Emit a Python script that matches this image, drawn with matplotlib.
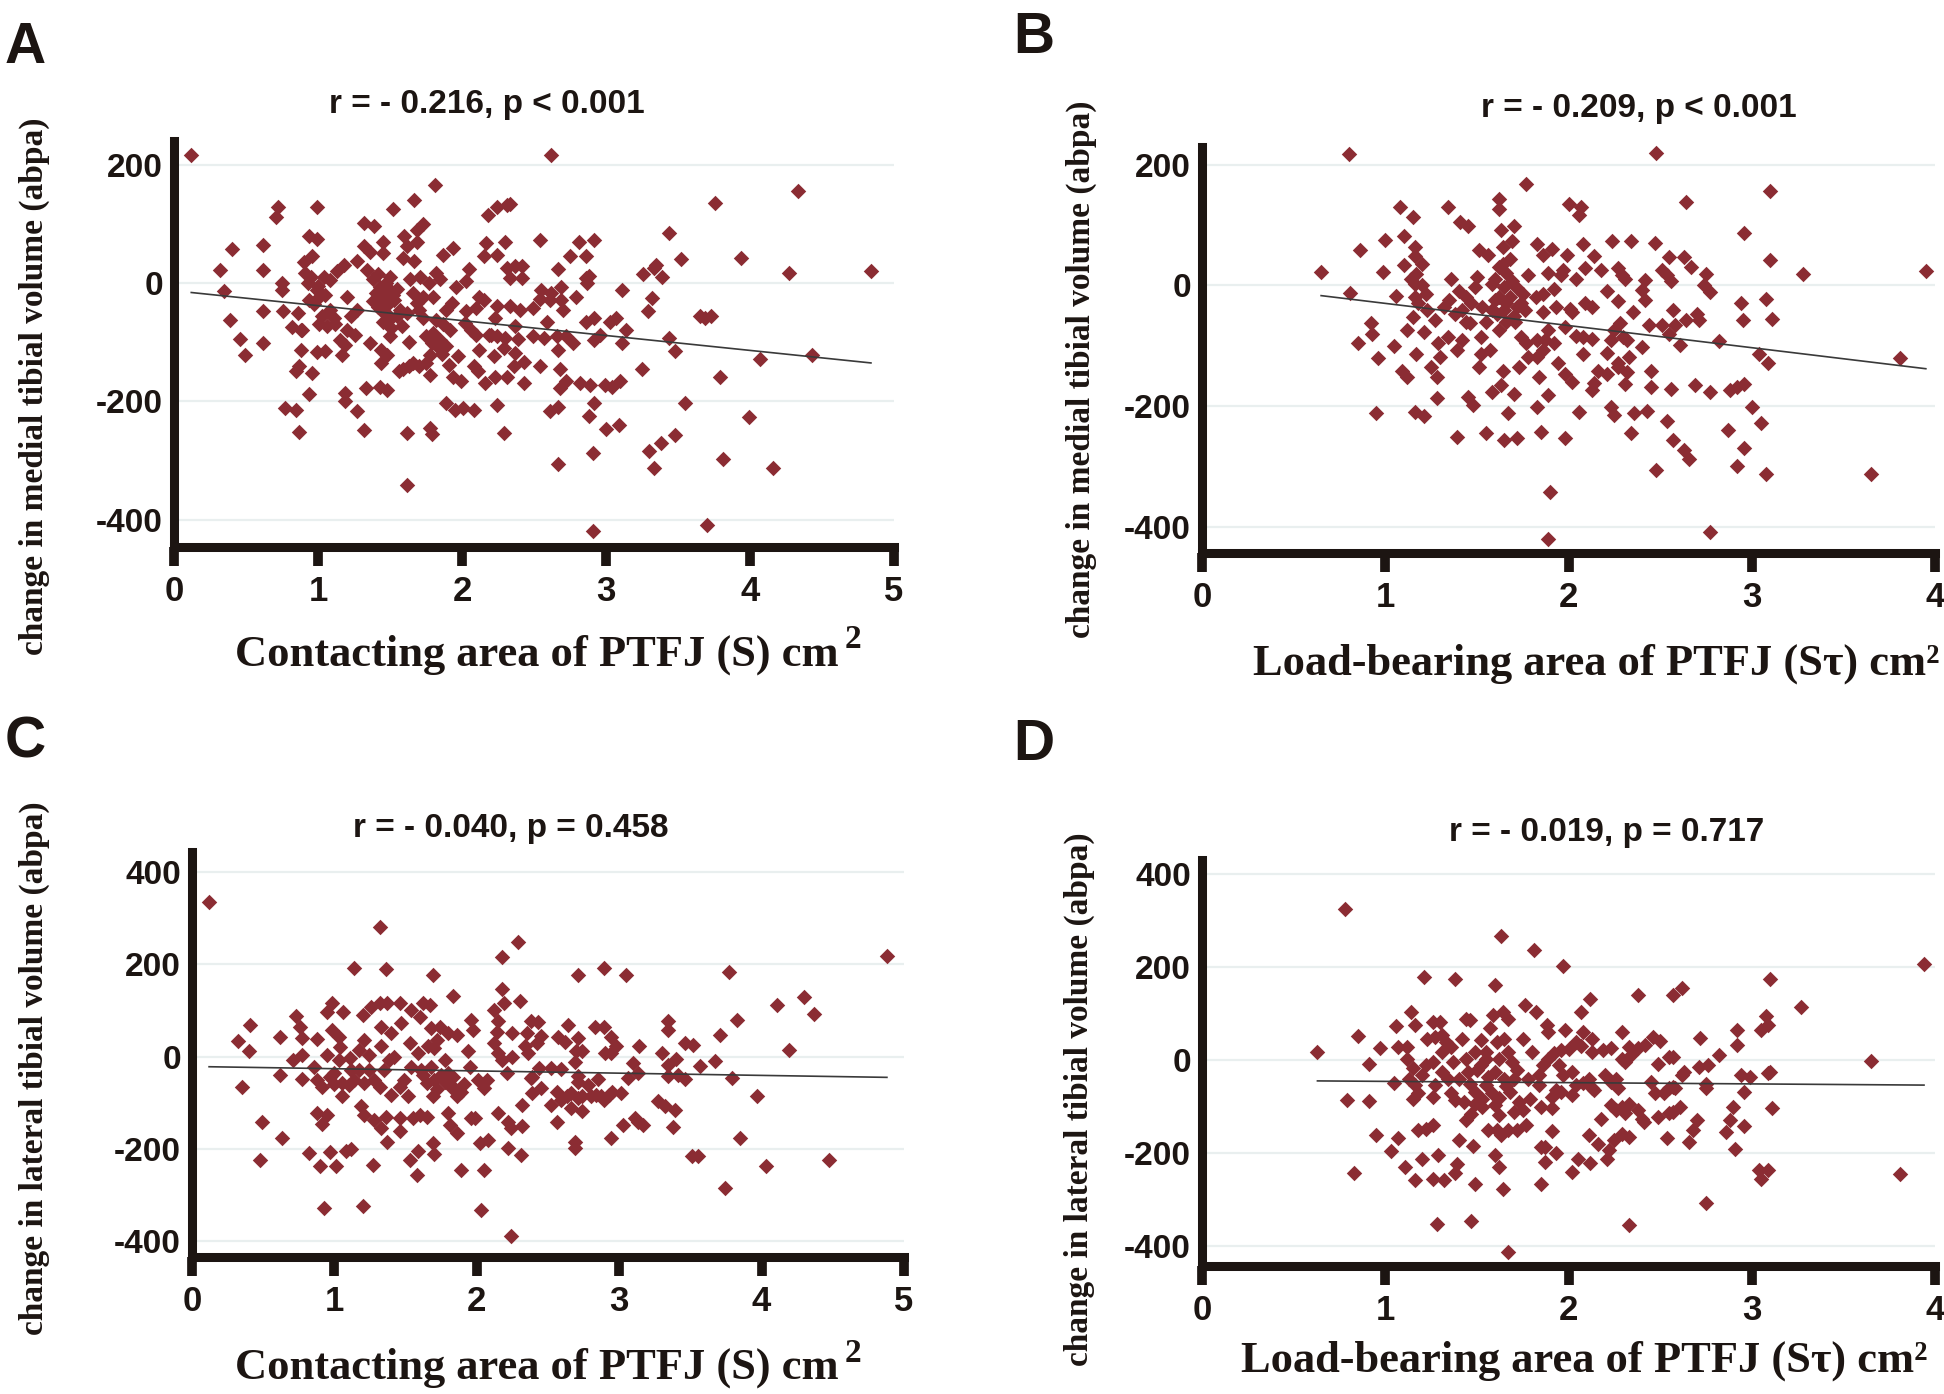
import matplotlib
matplotlib.use('Agg')
import matplotlib.pyplot as plt

# ---- data ----
# panel A: contacting area (S) vs medial tibial volume change
a_x = [0.12, 0.32, 0.35, 0.40, 0.39, 0.46, 0.49, 0.62, 0.62, 0.62,
       0.62, 0.72, 0.71, 0.75, 0.75, 0.76, 0.77, 0.85, 0.87, 0.82,
       0.86, 0.88, 0.89, 0.88, 0.87, 0.85, 0.94, 0.96, 0.99, 0.94,
       0.99, 0.96, 0.90, 0.91, 0.93, 0.99, 1.01, 1.04, 0.94, 0.99,
       1.05, 1.01, 1.06, 1.11, 1.13, 1.18, 1.20, 1.20, 1.15, 1.19,
       1.17, 1.19, 1.19, 1.27, 1.32, 1.26, 1.23, 1.27, 1.27, 1.32,
       1.39, 1.32, 1.36, 1.34, 1.38, 1.40, 1.43, 1.45, 1.41, 1.44,
       1.45, 1.45, 1.52, 1.36, 1.44, 1.48, 1.44, 1.50, 1.51, 1.55,
       1.57, 1.50, 1.50, 1.53, 1.48, 1.43, 1.48, 1.33, 1.56, 1.59,
       1.63, 1.66, 1.70, 1.63, 1.58, 1.62, 1.60, 1.62, 1.67, 1.69,
       1.73, 1.69, 1.59, 1.67, 1.64, 1.71, 1.66, 1.73, 1.69, 1.70,
       1.73, 1.77, 1.80, 1.82, 1.85, 1.81, 1.87, 1.94, 1.96, 1.93,
       1.89, 1.87, 1.82, 1.75, 1.79, 1.85, 1.89, 1.92, 1.78, 1.75,
       1.78, 1.91, 1.97, 1.94, 1.99, 1.89, 1.95, 2.01, 2.08, 1.78,
       1.79, 1.62, 1.62, 2.03, 2.02, 2.05, 2.03, 2.06, 2.08, 2.11,
       2.10, 2.15, 2.16, 2.22, 2.24, 2.29, 2.18, 2.24, 2.31, 2.15,
       2.17, 2.24, 2.30, 2.31, 2.24, 2.23, 2.20, 2.24, 2.30, 2.29,
       2.23, 2.31, 2.19, 2.10, 2.12, 2.12, 1.38, 1.42, 1.47, 1.52,
       1.47, 1.42, 1.55, 1.50, 1.45, 0.95, 1.00, 1.05, 0.97, 1.08,
       1.08, 1.12, 1.03, 1.80, 1.84, 1.86, 2.62, 2.33, 2.54, 2.81,
       2.92, 2.75, 2.86, 2.67, 2.42, 2.37, 2.42, 2.33, 2.55, 2.62,
       2.69, 2.69, 2.61, 2.54, 2.70, 2.79, 2.86, 2.87, 2.88, 2.49,
       2.40, 2.33, 2.59, 2.86, 2.92, 3.03, 3.07, 3.11, 3.14, 3.11,
       2.96, 2.92, 2.77, 2.72, 2.66, 2.57, 2.49, 2.39, 2.37, 2.37,
       2.36, 2.43, 2.43, 2.54, 2.67, 2.68, 2.72, 2.68, 2.82, 2.89,
       2.99, 3.04, 3.10, 3.25, 3.26, 3.33, 3.35, 3.39, 3.32, 3.29,
       3.44, 3.52, 3.65, 3.69, 3.73, 3.44, 3.48, 3.76, 3.94, 4.27,
       4.33, 4.84, 3.79, 4.07, 4.43, 3.55, 3.99, 2.61, 2.67, 2.88,
       2.92, 3.00, 3.09, 2.67, 2.91, 3.30, 3.38, 3.33, 3.48, 3.81,
       4.16, 2.91, 3.70]
a_y = [216, 22, -13, 58, -63, -95, -122, 64, 22, -48,
       -101, 128, 111, 0, -11, -48, -211, -214, -251, -74,
       -50, -79, -79, -113, -141, -149, -187, -152, 128, 80,
       74, 46, 35, 17, 0, -11, -23, 11, -28, -117,
       -115, -70, -73, -59, 21, 31, -23, -79, -96, -104,
       -121, -186, -200, -217, -249, -88, -56, -45, 37, 101,
       97, 62, 53, 22, 6, -17, -6, -23, -34, -45,
       51, 70, 125, -101, -113, -121, -135, -90, -76, -56,
       -45, 11, -11, -28, -37, -176, -181, -178, -148, -146,
       -140, -135, -140, -99, -73, -51, 79, 62, 141, 90,
       100, 70, 42, 37, 6, 11, -17, -23, -34, -45,
       -59, 0, -23, 17, 6, 166, 48, 59, -6, -34,
       -45, -70, -62, -90, -101, -96, -107, -79, -121, -135,
       -155, -138, -124, -158, -166, -203, -214, -211, -215, -245,
       -255, -253, -342, -48, -68, 24, 3, -79, -141, -149,
       -42, -28, -169, -124, -206, -253, 115, 128, 132, 45,
       68, 47, 70, 25, -39, -59, -87, -90, -93, -110,
       -158, -158, -87, -87, -113, -23, -30, -40, -50, -20,
       0, 15, -10, -60, -65, 10, -5, -20, -35, 5,
       -45, -70, -55, -85, -110, -120, 216, 134, 72, 70,
       72, 46, 46, 24, 28, 28, 8, 8, -11, -16,
       -7, -29, -29, -27, -45, -24, 8, 0, 12, -42,
       -45, -39, -65, -65, -59, -65, -59, -11, -79, -101,
       -87, -96, -101, -90, -89, -93, -90, -95, -73, -118,
       -141, -133, -169, -141, -113, -146, -166, -177, -169, -173,
       -172, -176, -166, -146, 16, 25, 31, 11, -26, -48,
       84, 41, -56, -59, -56, -93, -115, 136, 43, 17,
       156, 21, -159, -128, -121, -203, -227, -217, -209, -224,
       -203, -246, -240, -305, -288, -283, -270, -312, -256, -297,
       -312, -419, -409]
fit_a_x = [0.12, 4.84]
fit_a_y = [-16, -135]

# panel B: load-bearing area (S tau) vs medial tibial volume change
b_x = [0.65, 0.80, 0.81, 0.86, 0.92, 0.93, 0.85, 0.95, 0.96, 0.99,
       1.00, 1.05, 1.06, 1.08, 1.10, 1.10, 1.09, 1.12, 1.15, 1.16,
       1.16, 1.16, 1.21, 1.17, 1.12, 1.15, 1.16, 1.16, 1.17, 1.20,
       1.22, 1.23, 1.21, 1.25, 1.28, 1.28, 1.34, 1.27, 1.29, 1.30,
       1.34, 1.32, 1.35, 1.36, 1.38, 1.39, 1.41, 1.45, 1.42, 1.39,
       1.44, 1.46, 1.45, 1.48, 1.50, 1.49, 1.51, 1.53, 1.52, 1.52,
       1.51, 1.55, 1.56, 1.57, 1.58, 1.60, 1.61, 1.62, 1.62, 1.63,
       1.64, 1.64, 1.65, 1.65, 1.62, 1.64, 1.63, 1.58, 1.65, 1.67,
       1.70, 1.70, 1.69, 1.68, 1.69, 1.72, 1.71, 1.74, 1.73, 1.72,
       1.76, 1.75, 1.77, 1.78, 1.82, 1.83, 1.83, 1.85, 1.83, 1.83,
       1.84, 1.77, 1.78, 1.62, 1.66, 1.70, 1.68, 1.72, 1.58, 1.55,
       1.66, 1.74, 1.60, 1.62, 1.66, 1.42, 1.47, 1.44, 1.40, 1.18,
       1.20, 1.14, 2.48, 2.64, 2.00, 2.07, 2.06, 3.10, 2.96, 3.10,
       3.28, 3.95, 1.91, 1.86, 1.99, 2.08, 2.24, 2.34, 2.47, 2.14,
       1.97, 1.96, 1.89, 2.04, 2.09, 2.18, 2.27, 2.31, 2.29, 2.42,
       2.40, 2.42, 2.21, 2.27, 2.13, 2.09, 2.01, 2.02, 1.93, 1.86,
       1.92, 1.86, 2.51, 2.54, 2.56, 2.55, 2.63, 2.67, 2.75, 2.74,
       2.77, 2.35, 2.28, 2.25, 2.44, 2.51, 2.55, 2.58, 2.57, 2.64,
       2.71, 2.70, 2.61, 2.40, 2.32, 2.30, 2.23, 2.13, 2.08, 2.04,
       1.98, 1.89, 1.87, 1.92, 1.86, 1.94, 1.98, 2.02, 2.08, 2.16,
       2.14, 2.13, 2.21, 2.21, 2.27, 2.32, 2.33, 2.31, 2.27, 2.45,
       2.45, 2.56, 2.69, 2.77, 2.88, 2.92, 2.96, 2.82, 2.94, 2.95,
       3.08, 3.11, 3.04, 3.09, 3.81, 1.89, 1.98, 2.06, 2.23, 2.25,
       2.36, 2.43, 2.34, 2.54, 2.57, 2.63, 2.66, 2.48, 2.87, 2.96,
       2.92, 3.00, 3.05, 3.08, 3.65, 1.90, 1.89, 2.77]
b_y = [22, 218, -12, 59, -63, -81, -96, -211, -121, 22,
       75, -101, -18, 129, 81, 33, -141, -152, 113, 64,
       48, -210, -217, -114, -74, -52, -19, 3, 19, 36,
       -14, -41, -77, -135, -152, -187, 129, -58, -96, -118,
       -85, -36, -25, 11, -47, -251, 105, 98, -91, -107,
       -19, -63, -185, -198, 14, -3, 58, -36, -85, -113,
       -135, -245, 50, -107, 3, -25, -47, 143, 127, 91,
       63, 36, -3, -41, -74, -141, -165, -176, -256, -212,
       -179, 99, 74, 44, 8, -36, -61, -85, -135, -253,
       -41, -14, 168, 17, -19, 69, -201, -242, -91, -118,
       -152, -96, -118, -20, -30, -50, -20, -5, -40, -60,
       -60, -30, 10, 30, 20, -40, -30, -60, -10, -30,
       0, 10, 219, 138, 135, 129, 116, 156, 87, 42,
       18, 23, 61, 50, 50, 68, 73, 73, 70, 48,
       25, 17, 20, 11, 28, 25, 28, 11, 17, 9,
       -7, -24, -9, -26, -36, -29, -39, -44, -36, -44,
       -6, -14, 25, 17, 8, 47, 47, 30, 18, 0,
       -11, -44, -63, -74, -66, -66, -80, -66, -41, -57,
       -58, -47, -99, -102, -91, -85, -91, -88, -85, -84,
       -69, -74, -91, -96, -107, -129, -146, -160, -113, -141,
       -161, -174, -146, -112, -129, -143, -118, -163, -135, -141,
       -168, -171, -165, -176, -174, -168, -163, -92, -29, -58,
       -23, -55, -114, -128, -120, -182, -253, -209, -202, -215,
       -211, -208, -245, -224, -256, -273, -288, -305, -240, -270,
       -299, -202, -227, -312, -312, -342, -420, -409]
fit_b_x = [0.65, 3.95]
fit_b_y = [-17, -138]

# panel C: contacting area (S) vs lateral tibial volume change
c_x = [0.12, 0.32, 0.41, 0.40, 0.35, 0.49, 0.48, 0.62, 0.62, 0.63,
       0.71, 0.73, 0.76, 0.77, 0.77, 0.77, 0.82, 0.88, 0.88, 0.91,
       0.90, 0.93, 0.86, 0.88, 0.91, 0.95, 0.97, 1.01, 0.98, 0.95,
       1.06, 0.98, 1.03, 0.95, 1.03, 1.00, 1.05, 1.11, 1.12, 1.17,
       1.21, 1.20, 1.26, 1.32, 1.37, 1.33, 1.33, 1.38, 1.40, 1.46,
       1.54, 1.62, 1.67, 1.60, 1.47, 1.53, 1.59, 1.66, 1.68, 1.74,
       1.80, 1.86, 1.72, 1.70, 1.78, 1.80, 1.82, 1.86, 1.89, 1.68,
       1.70, 1.65, 1.61, 1.54, 1.49, 1.46, 1.42, 1.35, 1.32, 1.28,
       1.24, 1.17, 1.24, 1.21, 1.14, 1.10, 1.05, 1.19, 1.21, 1.28,
       1.33, 1.37, 1.27, 1.12, 1.08, 1.14, 1.36, 1.32, 1.69, 1.83,
       1.96, 1.97, 1.94, 1.95, 2.01, 2.07, 2.05, 1.96, 1.99, 2.02,
       2.08, 2.05, 1.89, 2.03, 2.24, 2.18, 2.29, 2.18, 2.19, 2.12,
       2.15, 2.14, 2.12, 2.15, 2.18, 2.21, 2.25, 2.25, 2.15, 2.22,
       2.24, 2.22, 1.80, 1.81, 1.86, 1.69, 1.70, 1.59, 1.58, 1.53,
       1.65, 1.60, 1.55, 1.46, 1.46, 1.36, 1.20, 1.69, 1.52, 1.40,
       2.71, 2.89, 3.05, 2.30, 2.38, 2.43, 2.64, 2.57, 2.62, 2.71,
       2.70, 2.74, 2.69, 2.34, 2.36, 2.42, 2.45, 2.35, 2.44, 2.52,
       2.59, 2.39, 2.71, 2.71, 2.78, 2.85, 2.83, 2.89, 2.94, 2.98,
       2.90, 2.94, 3.10, 3.14, 3.13, 3.06, 2.87, 2.89, 2.93, 2.95,
       3.01, 2.66, 2.71, 2.74, 2.80, 2.84, 2.63, 2.59, 2.66, 2.74,
       2.56, 2.52, 2.56, 2.45, 2.39, 2.38, 2.32, 2.32, 2.31, 2.69,
       2.69, 2.94, 3.03, 3.11, 3.13, 3.17, 3.30, 3.34, 3.34, 3.34,
       3.40, 3.34, 3.41, 3.46, 3.46, 3.52, 3.57, 3.67, 3.71, 3.27,
       3.32, 3.39, 3.38, 3.51, 3.55, 3.74, 3.77, 3.83, 3.79, 3.97,
       3.85, 4.03, 4.11, 4.19, 4.30, 4.37, 4.47, 4.88, 1.75, 1.78,
       1.83, 1.85, 1.00, 0.97, 1.04, 1.62, 1.72, 1.91]
c_y = [335, 34, 68, 11, -65, -141, -223, 43, -40, -177,
       -7, 88, 65, 40, 4, -49, -209, 37, -123, -146,
       -236, -328, -22, -50, -65, -126, -207, -238, 117, 97,
       96, 58, 43, 4, -7, -36, -58, -4, -29, 14,
       36, 90, 108, 115, 117, 65, 22, -7, 50, 115,
       101, 115, 112, 86, 72, 29, 7, 22, 61, 65,
       50, 47, 36, 18, -7, -36, -65, -86, -76, -22,
       -50, -58, -29, -22, -50, -65, 0, -29, -65, -50,
       -29, -29, 4, -58, -50, -61, -86, -108, -126, -137,
       -155, -184, -234, -200, -205, 191, 190, 280, 177, 132,
       79, 58, 11, -22, -50, -50, -68, -133, -133, -187,
       -180, -245, -245, -332, -389, 216, 249, 146, 115, 101,
       76, 54, 29, 7, -7, -36, 50, 0, -123, -141,
       -155, -198, -123, -148, -166, -187, -212, -205, -256, -223,
       -130, -126, -133, -133, -162, -130, -324, -86, -86, -83,
       176, 191, 176, 121, 76, 74, 68, 43, 32, 41,
       11, 11, -11, 22, 7, 29, 44, 50, -25, -25,
       -27, -45, -43, -54, -61, -49, 65, 63, 43, 22,
       7, 7, -13, 23, -36, -47, -86, -94, -83, -76,
       -79, -79, -90, -86, -86, -83, -86, -94, -112, -117,
       -76, -104, -141, -68, -79, -47, -104, -151, -213, -184,
       -198, -177, -148, -133, -141, -148, 7, 76, 58, -18,
       -6, -43, -40, -49, 29, 25, -20, -9, 47, -97,
       -108, -115, -153, -216, -216, -285, 184, 79, -47, -86,
       -177, -236, 112, 14, 130, 92, -223, 218, -40, -55,
       -45, -70, -60, -45, 20, -40, -70, -60]
fit_c_x = [0.12, 4.88]
fit_c_y = [-22, -45]

# panel D: load-bearing area (S tau) vs lateral tibial volume change
d_x = [0.63, 0.78, 0.85, 0.79, 0.91, 0.91, 0.95, 0.97, 1.03, 0.83,
       1.05, 1.06, 1.14, 1.16, 1.07, 1.12, 1.07, 1.11, 1.16, 1.21,
       1.20, 1.18, 1.22, 1.26, 1.26, 1.32, 1.29, 1.28, 1.12, 1.15,
       1.13, 1.16, 1.15, 1.20, 1.23, 1.27, 1.26, 1.30, 1.31, 1.33,
       1.36, 1.31, 1.26, 1.31, 1.34, 1.27, 1.26, 1.36, 1.38, 1.38,
       1.40, 1.39, 1.38, 1.44, 1.48, 1.49, 1.47, 1.44, 1.46, 1.42,
       1.44, 1.45, 1.40, 1.46, 1.49, 1.43, 1.49, 1.53, 1.55, 1.52,
       1.55, 1.52, 1.57, 1.59, 1.64, 1.67, 1.61, 1.65, 1.62, 1.67,
       1.69, 1.60, 1.65, 1.70, 1.68, 1.58, 1.60, 1.62, 1.56, 1.61,
       1.63, 1.67, 1.72, 1.77, 1.75, 1.79, 1.73, 1.60, 1.62, 1.64,
       1.67, 1.60, 1.63, 1.81, 1.76, 1.82, 1.75, 1.80, 1.84, 1.84,
       1.85, 1.85, 1.49, 1.37, 1.55, 1.97, 2.07, 2.12, 2.38, 2.57,
       2.62, 3.10, 3.27, 3.94, 3.65, 3.81, 2.33, 2.75, 1.88, 1.89,
       1.98, 2.08, 2.13, 2.29, 2.33, 2.38, 2.42, 2.46, 2.50, 2.19,
       2.23, 2.13, 2.07, 2.04, 2.00, 1.96, 1.92, 1.89, 1.86, 1.95,
       2.02, 1.97, 2.04, 2.08, 2.14, 2.11, 2.20, 2.23, 2.26, 2.29,
       2.31, 2.34, 2.49, 2.55, 2.57, 2.72, 2.82, 2.92, 2.92, 2.71,
       2.76, 2.63, 2.62, 2.45, 2.75, 2.75, 2.94, 2.99, 3.09, 3.10,
       2.96, 3.08, 3.09, 3.05, 2.55, 2.57, 2.58, 2.47, 2.52, 2.27,
       2.13, 1.93, 1.96, 1.91, 1.85, 1.91, 2.02, 2.18, 2.23, 2.26,
       2.29, 2.33, 2.31, 2.38, 2.40, 2.41, 2.49, 2.55, 2.57, 2.61,
       2.70, 2.68, 2.66, 2.54, 2.33, 2.29, 2.25, 2.22, 2.21, 2.16,
       2.11, 2.12, 2.05, 2.02, 1.93, 1.91, 1.87, 1.87, 2.86, 2.88,
       2.90, 2.96, 2.91, 3.04, 3.09, 3.05, 3.11, 1.50, 1.56, 1.66,
       1.72, 1.78, 1.53, 1.47, 1.62, 1.70, 1.22, 1.18]
d_y = [18, 325, 53, -84, -7, -88, -160, 26, -195, -243,
       -48, 74, 104, 76, 29, 29, -166, -229, -258, 180,
       -211, -150, -147, -139, -256, -258, -203, -351, 4, -17,
       -39, -53, -82, -32, 47, 51, 83, 83, 54, 40,
       29, 18, -3, -25, -39, -53, -78, -71, -86, 176,
       -172, -222, -243, -129, -183, -265, -346, 90, 88, 47,
       4, -25, -39, -50, -68, -89, -93, -82, -53, 43,
       18, -10, 69, 97, 104, 90, 40, 47, 4, 18,
       -3, -25, -39, -39, -68, -71, -96, -118, -150, -150,
       -161, -150, -150, -139, -107, -82, -89, -204, -229, -276,
       -411, 162, 268, 237, 119, 104, 47, 18, -32, -53,
       -186, -265, 18, -3, 4, 203, 104, 132, 140, 140,
       155, 175, 114, 207, -2, -245, -353, -306, 76, 61,
       65, 61, 47, 61, 29, 26, 34, 51, 42, 22,
       26, 18, 32, 40, 25, 22, 15, 4, -10, -10,
       -25, -32, -53, -49, -64, -39, -32, -46, -39, 4,
       -3, 11, -7, 8, 8, 49, 11, 65, 33, -14,
       -10, -25, -32, -46, -50, -60, -32, -35, -28, -25,
       -68, 96, 76, 65, -60, -57, -60, -71, -71, -60,
       -60, -64, -68, -78, -100, -103, -75, -125, -96, -107,
       -100, -93, -114, -107, -125, -132, -121, -114, -111, -100,
       -128, -150, -175, -166, -165, -158, -172, -193, -211, -179,
       -161, -221, -211, -240, -200, -152, -186, -218, -153, -128,
       -100, -140, -191, -236, -236, -254, -102, -20, -35, -55,
       -20, -40, -100, -115, -80, -110, -10, -70]
fit_d_x = [0.63, 3.94]
fit_d_y = [-44, -53]

letters = ['A', 'B', 'C', 'D']
titles = ['r = - 0.216, p < 0.001', 'r = - 0.209, p < 0.001',
          'r = - 0.040, p = 0.458', 'r = - 0.019, p = 0.717']
xlabels = ['Contacting area of PTFJ (S) cm', 'Load-bearing area of PTFJ (S\u03c4) cm\u00b2',
           'Contacting area of PTFJ (S) cm', 'Load-bearing area of PTFJ (S\u03c4) cm\u00b2']
ylabels = ['change in medial tibial volume (abpa)', 'change in medial tibial volume (abpa)',
           'change in lateral tibial volume (abpa)', 'change in lateral tibial volume (abpa)']
yticks_top = [-400, -200, 0, 200]
yticks_bottom = [-400, -200, 0, 200, 400]

# ---- styling ----
W, H = 1944, 1394
sans = ['Liberation Sans', 'DejaVu Sans']
serif = ['Liberation Serif', 'DejaVu Serif']
ink = '#1c1512'
dot = '#8b2c33'

plt.rcParams['font.family'] = sans
plt.rcParams['font.weight'] = 'bold'
plt.rcParams['axes.unicode_minus'] = False

fig = plt.figure(figsize=(W / 100, H / 100), dpi=100)


def box(l, t, r, b):
    return [l / W, 1 - b / H, (r - l) / W, (b - t) / H]


def put(x, y, s, **kw):
    return fig.text(x / W, 1 - y / H, s, **kw)


def draw_panel(rect, xs, ys, fx, fy, xmax, ylim, yticks):
    ax = fig.add_axes(rect)
    ax.set_xlim(0, xmax)
    ax.set_ylim(*ylim)
    ax.set_xticks(range(0, xmax + 1))
    ax.set_yticks(yticks)
    ax.set_axisbelow(True)
    ax.grid(axis='y', color='#e9efef', lw=1.6)
    for side in ['top', 'right']:
        ax.spines[side].set_visible(False)
    for side in ['left', 'bottom']:
        ax.spines[side].set_linewidth(6.5)
        ax.spines[side].set_color(ink)
        ax.spines[side].set_capstyle('projecting')
    ax.tick_params(axis='x', length=14, width=7, direction='out', pad=6,
                   color=ink, labelcolor=ink, labelsize=25)
    ax.tick_params(axis='y', length=0, pad=8, labelcolor=ink, labelsize=24)
    ax.scatter(xs, ys, marker='D', s=62, color=dot, linewidths=0,
               zorder=3, clip_on=False)
    ax.plot(fx, fy, color='#3a3a3a', lw=1.2, zorder=4)
    return ax


draw_panel(box(174, 141, 894, 547), a_x, a_y, fit_a_x, fit_a_y, 5, (-446, 240), yticks_top)
draw_panel(box(1202, 147, 1935, 553), b_x, b_y, fit_b_x, fit_b_y, 4, (-443, 229), yticks_top)
draw_panel(box(192, 852, 904, 1257), c_x, c_y, fit_c_x, fit_c_y, 5, (-434, 443), yticks_bottom)
draw_panel(box(1202, 860, 1935, 1266), d_x, d_y, fit_d_x, fit_d_y, 4, (-442, 431), yticks_bottom)

# panel letters
for (x, y), s in zip([(5, 48), (1013, 38), (5, 743), (1013, 745)], letters):
    put(x, y, s, fontsize=41, color=ink, ha='left', va='center')

# titles
for (x, y), s in zip([(487, 104), (1639, 108), (511, 829), (1607, 833)], titles):
    put(x, y, s, fontsize=24, color=ink, ha='center', va='center')

# x labels (A and C carry a detached, raised "2")
for (x, y), s in zip([(537, 655), (1596, 664), (537, 1368), (1584, 1361)], xlabels):
    put(x, y, s, fontsize=32, color=ink, ha='center', va='center', family=serif)
for x, y in [(853, 640), (853, 1353)]:
    put(x, y, '2', fontsize=24, color=ink, ha='center', va='center', family=serif)

# y labels
for (x, y), s in zip([(34, 386), (1081, 369), (34, 1068), (1079, 1099)], ylabels):
    put(x, y, s, fontsize=24, color=ink, ha='center', va='center',
        rotation=90, family=serif)

fig.savefig('out.png', dpi=100, facecolor='white')
